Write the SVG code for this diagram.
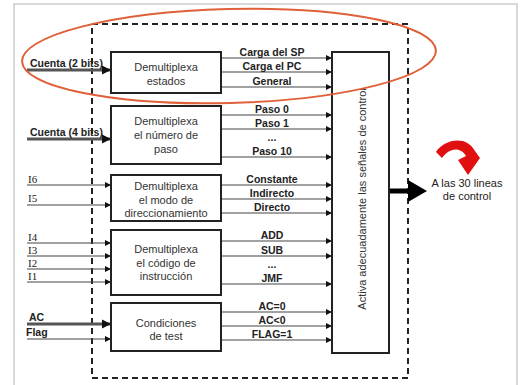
<svg xmlns="http://www.w3.org/2000/svg" width="520" height="385" viewBox="0 0 520 385">
<defs>
<style>
.blk{fill:#fff;stroke:#222;stroke-width:2}
.bt{font-family:"Liberation Sans",Arial,sans-serif;font-size:11px;fill:#333;text-anchor:middle}
.lab{font-family:"Liberation Sans",Arial,sans-serif;font-size:10.5px;font-weight:bold;fill:#222;text-anchor:middle}
.inl{font-family:"Liberation Sans",Arial,sans-serif;font-size:10.5px;font-weight:bold;fill:#222}
.ins{font-family:"Liberation Serif","Times New Roman",serif;font-size:11px;fill:#222}
.out{stroke:#444;stroke-width:1.2;fill:none;marker-end:url(#ah)}
.thin{stroke:#444;stroke-width:1.2;fill:none;marker-end:url(#ah)}
.thick{stroke:#555;stroke-width:3;fill:none;marker-end:url(#ahb)}
</style>
<marker id="ah" viewBox="0 0 10 10" refX="10" refY="5" markerWidth="6" markerHeight="6" markerUnits="userSpaceOnUse" orient="auto"><path d="M0,0 L10,5 L0,10 Z" fill="#111"/></marker>
<marker id="ahb" viewBox="0 0 10 10" refX="10" refY="5" markerWidth="9" markerHeight="10" markerUnits="userSpaceOnUse" orient="auto"><path d="M0,0 L10,5 L0,10 Z" fill="#111"/></marker>
</defs>
<rect x="0" y="0" width="520" height="385" fill="#fff"/>
<rect x="14" y="4" width="503" height="400" fill="none" stroke="#ccc" stroke-width="1.5"/>
<rect id="frame" x="92" y="24" width="316" height="354" fill="none" stroke="#222" stroke-width="2" stroke-dasharray="6,4"/>

<g id="connectors">
<line class="thick" x1="27" y1="70" x2="111" y2="70"/>
<line class="thick" x1="27" y1="139" x2="111" y2="139"/>
<line class="thin" x1="27" y1="185" x2="111" y2="185"/>
<line class="thin" x1="27" y1="205" x2="111" y2="205"/>
<line class="thin" x1="27" y1="243" x2="111" y2="243"/>
<line class="thin" x1="27" y1="256" x2="111" y2="256"/>
<line class="thin" x1="27" y1="269" x2="111" y2="269"/>
<line class="thin" x1="27" y1="282" x2="111" y2="282"/>
<line class="thick" x1="27" y1="324" x2="111" y2="324"/>
<line class="thin" x1="27" y1="339" x2="111" y2="339"/>
<line class="out" x1="221" y1="58" x2="332" y2="58"/>
<line class="out" x1="221" y1="72" x2="332" y2="72"/>
<line class="out" x1="221" y1="87" x2="332" y2="87"/>
<line class="out" x1="221" y1="115" x2="332" y2="115"/>
<line class="out" x1="221" y1="129" x2="332" y2="129"/>
<line class="out" x1="221" y1="157" x2="332" y2="157"/>
<line class="out" x1="221" y1="185" x2="332" y2="185"/>
<line class="out" x1="221" y1="199" x2="332" y2="199"/>
<line class="out" x1="221" y1="213" x2="332" y2="213"/>
<line class="out" x1="221" y1="241" x2="332" y2="241"/>
<line class="out" x1="221" y1="256" x2="332" y2="256"/>
<line class="out" x1="221" y1="284" x2="332" y2="284"/>
<line class="out" x1="221" y1="312" x2="332" y2="312"/>
<line class="out" x1="221" y1="326" x2="332" y2="326"/>
<line class="out" x1="221" y1="340" x2="332" y2="340"/>
<line x1="389" y1="191" x2="409" y2="191" stroke="#000" stroke-width="5"/>
<path d="M408,180 L427,191 L408,202 Z" fill="#000"/>
</g>

<g id="input-labels">
<text class="inl" x="30" y="67">Cuenta (2 bits)</text>
<text class="inl" x="30" y="136">Cuenta (4 bits)</text>
<text class="ins" x="28" y="183">I6</text>
<text class="ins" x="28" y="202">I5</text>
<text class="ins" x="28" y="241">I4</text>
<text class="ins" x="28" y="254">I3</text>
<text class="ins" x="28" y="267">I2</text>
<text class="ins" x="28" y="280">I1</text>
<text class="inl" x="29" y="321">AC</text>
<text class="inl" x="26" y="336">Flag</text>
</g>

<g id="output-labels">
<text class="lab" x="272" y="56">Carga del SP</text>
<text class="lab" x="272" y="70">Carga el PC</text>
<text class="lab" x="272" y="85">General</text>
<text class="lab" x="272" y="113">Paso 0</text>
<text class="lab" x="272" y="127">Paso 1</text>
<text class="lab" x="272" y="141">...</text>
<text class="lab" x="272" y="155">Paso 10</text>
<text class="lab" x="272" y="183">Constante</text>
<text class="lab" x="272" y="197">Indirecto</text>
<text class="lab" x="272" y="211">Directo</text>
<text class="lab" x="272" y="239">ADD</text>
<text class="lab" x="272" y="254">SUB</text>
<text class="lab" x="272" y="268">...</text>
<text class="lab" x="272" y="282">JMF</text>
<text class="lab" x="272" y="310">AC=0</text>
<text class="lab" x="272" y="324">AC&lt;0</text>
<text class="lab" x="272" y="338">FLAG=1</text>
</g>

<g id="n1"><rect class="blk" x="111" y="52" width="110" height="41"/>
<text class="bt" x="166" y="71">Demultiplexa</text><text class="bt" x="166" y="85">estados</text></g>
<g id="n2"><rect class="blk" x="111" y="106" width="110" height="58"/>
<text class="bt" x="166" y="125">Demultiplexa</text><text class="bt" x="166" y="139">el número de</text><text class="bt" x="166" y="153">paso</text></g>
<g id="n3"><rect class="blk" x="111" y="175" width="110" height="46"/>
<text class="bt" x="166" y="190">Demultiplexa</text><text class="bt" x="166" y="203.5">el modo de</text><text class="bt" x="166" y="217">direccionamiento</text></g>
<g id="n4"><rect class="blk" x="111" y="230" width="110" height="65"/>
<text class="bt" x="166" y="253">Demultiplexa</text><text class="bt" x="166" y="267">el código de</text><text class="bt" x="166" y="280">instrucción</text></g>
<g id="n5"><rect class="blk" x="111" y="303" width="110" height="48"/>
<text class="bt" x="166" y="327">Condiciones</text><text class="bt" x="166" y="340">de test</text></g>
<g id="control"><rect class="blk" x="332" y="52" width="57" height="301"/>
<text class="bt" transform="translate(366,199) rotate(-90)" x="0" y="0">Activa adecuadamente las señales de control</text></g>

<g id="note">
<path d="M436,152 C443,140 466,134 475,151 L480,158 L468,175 L458,160 L466,156 C461,147 450,147 442,158 Z" fill="#e01010"/>
<text class="bt" x="467" y="187" style="fill:#222">A las 30 lineas</text>
<text class="bt" x="467" y="200" style="fill:#222">de control</text>
</g>

<ellipse cx="229" cy="56" rx="207" ry="47" transform="rotate(-1.5 229 56)" fill="none" stroke="#e0603a" stroke-width="2"/>
</svg>
